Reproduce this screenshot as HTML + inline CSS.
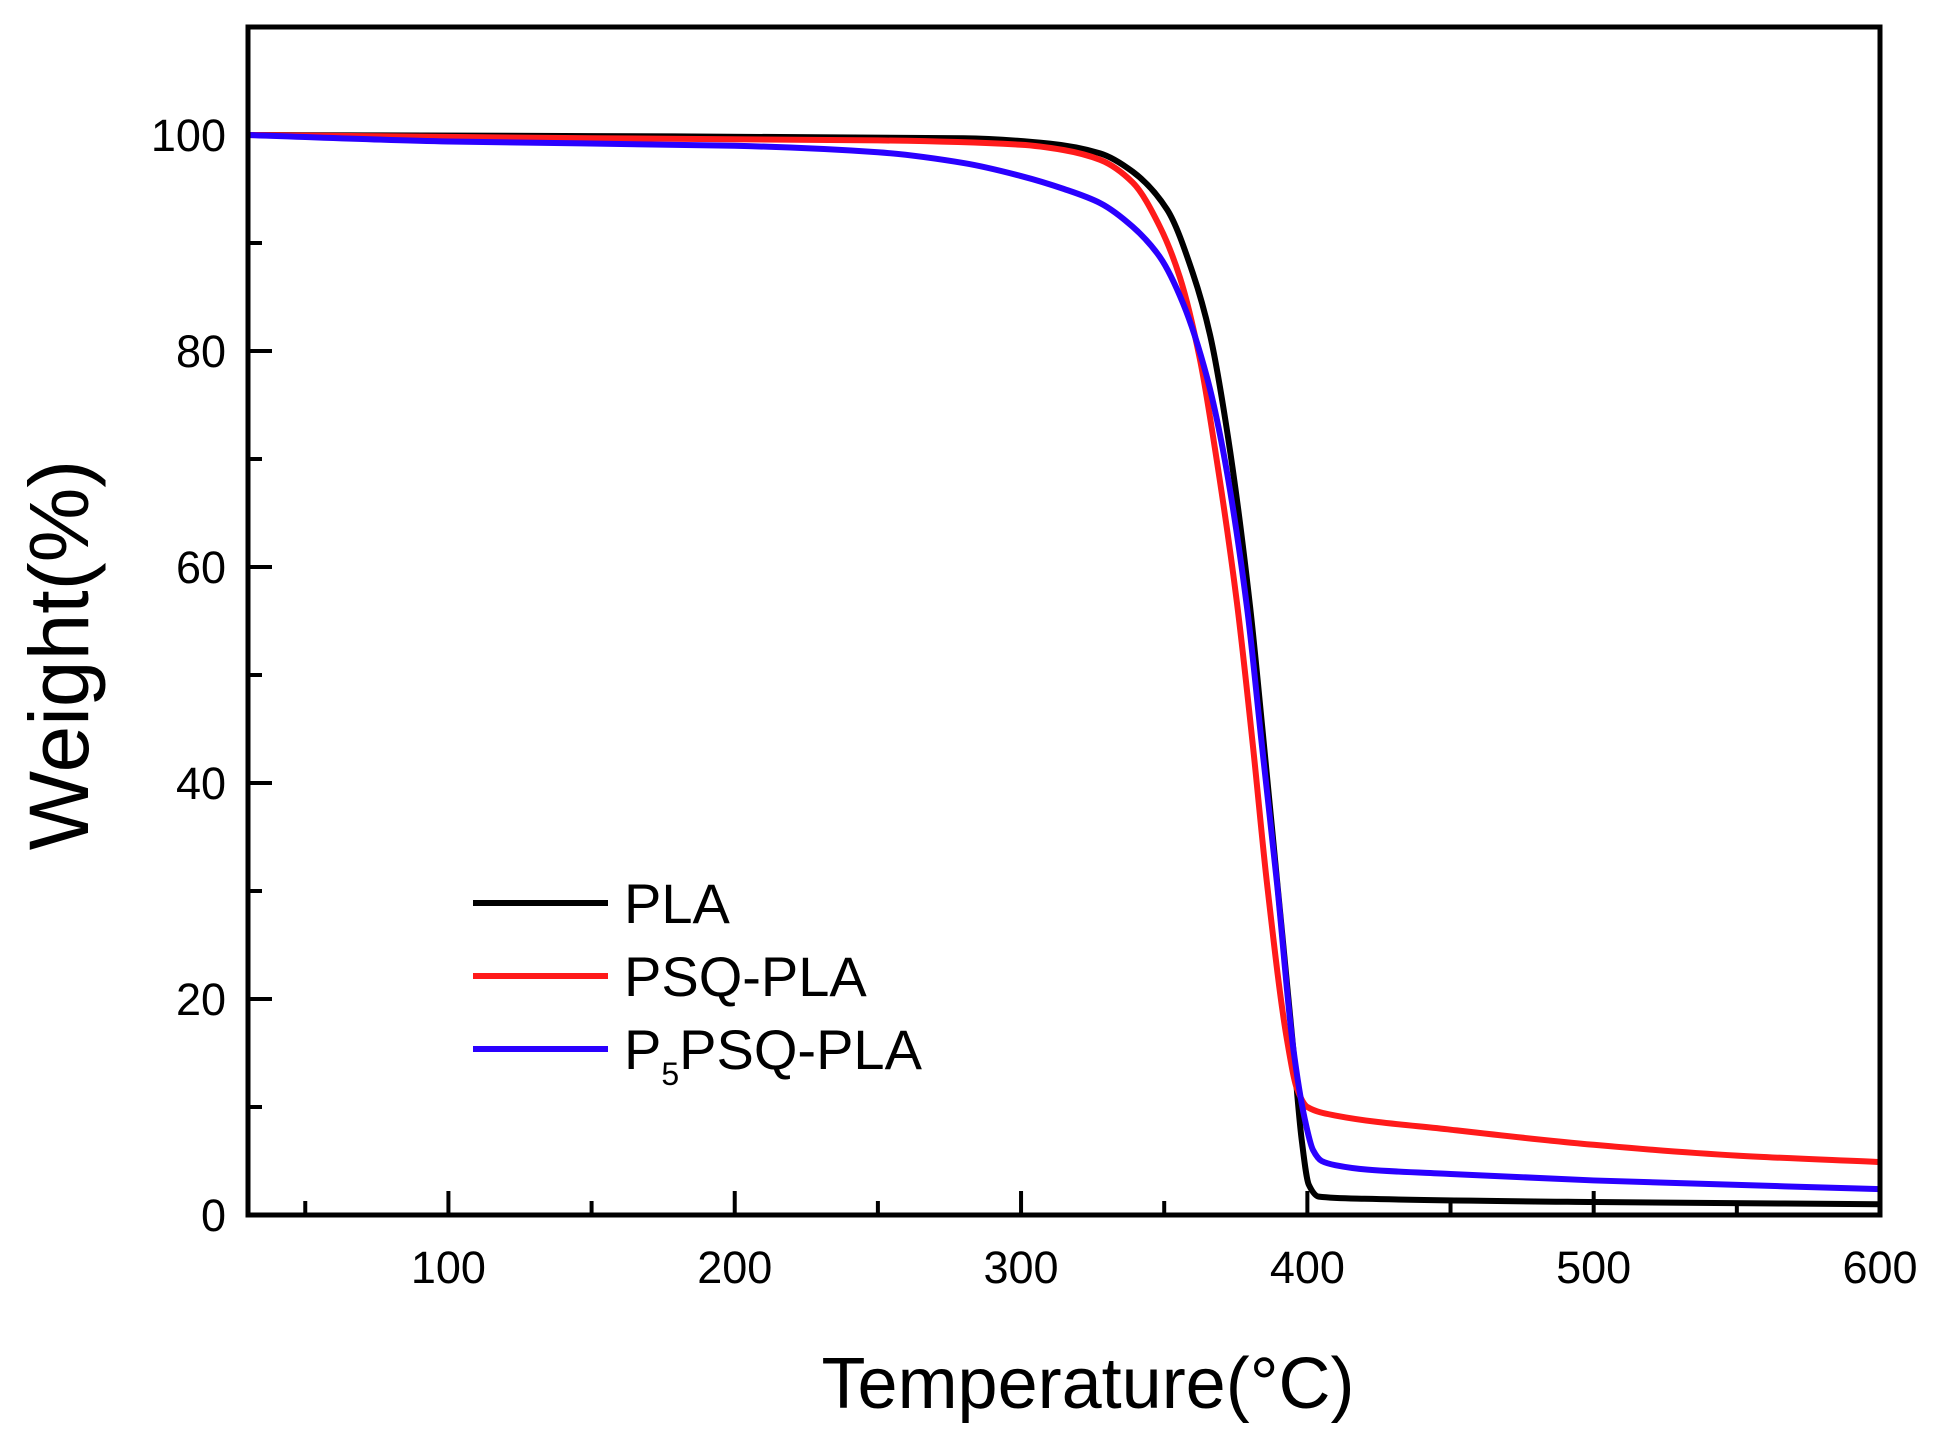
<!DOCTYPE html>
<html><head><meta charset="utf-8"><style>
html,body{margin:0;padding:0;background:#fff;}
svg{display:block;font-family:"Liberation Sans",Arial,sans-serif;}
</style></head><body>
<svg id="s" width="1938" height="1440" viewBox="0 0 1938 1440" xmlns="http://www.w3.org/2000/svg">
<rect width="1938" height="1440" fill="#fff"/>
<g id="ticks" stroke="#000" stroke-width="4"></g>
<g id="curves" fill="none" stroke-width="6" stroke-linejoin="round"></g>
<rect x="248" y="27" width="1632" height="1188" fill="none" stroke="#000" stroke-width="5"/>
<g font-size="45" fill="#000" id="labels"></g>
<text x="0" y="0" font-size="84" transform="translate(88,655) rotate(-90)" text-anchor="middle">Weight(%)</text>
<text x="1088" y="1408" font-size="72" text-anchor="middle">Temperature(°C)</text>
<g stroke-width="6">
<line x1="473" y1="903" x2="608" y2="903" stroke="#000"/>
<line x1="473" y1="976" x2="608" y2="976" stroke="#ff1a1a"/>
<line x1="473" y1="1049" x2="608" y2="1049" stroke="#2a00ff"/>
</g>
<g font-size="56" fill="#000">
<text x="624" y="923">PLA</text>
<text x="624" y="996">PSQ-PLA</text>
<text x="624" y="1069">P<tspan font-size="32" dy="16">5</tspan><tspan dy="-16">PSQ-PLA</tspan></text>
</g>
</svg>
<script>
const X=t=>248+(t-30)/570*1632, Y=v=>1215-v/110*1188;
const ns="http://www.w3.org/2000/svg";
const tk=document.getElementById('ticks'), lb=document.getElementById('labels');
function el(p,tag,a,txt){const e=document.createElementNS(ns,tag);for(const k in a)e.setAttribute(k,a[k]);if(txt)e.textContent=txt;p.appendChild(e);}
for(let t=50;t<=600;t+=50){const maj=t%100==0;el(tk,'line',{x1:X(t),x2:X(t),y1:1215,y2:1215-(maj?24:14)});if(maj)el(lb,'text',{x:X(t),y:1283,'text-anchor':'middle'},String(t));}
for(let v=0;v<=110;v+=10){const maj=v%20==0;el(tk,'line',{x1:248,x2:248+(maj?24:14),y1:Y(v),y2:Y(v)});if(maj)el(lb,'text',{x:226,y:Y(v)+16,'text-anchor':'end'},String(v));}
const data={
"#000":[[30,100],[150,99.9],[280,99.7],[310,99.2],[327.6,98.3],[339,96.6],[351,93.1],[360,87.2],[366,81.5],[372.3,72],[380,56.3],[384.3,45],[389.4,31],[395,15.6],[398,7],[400.5,2.8],[404,1.7],[420,1.5],[500,1.2],[600,1]],
"#ff1a1a":[[30,100],[150,99.7],[250,99.5],[300,99.1],[315,98.6],[327.6,97.7],[339,95.6],[348.5,91.5],[355.5,86.8],[362.5,79.2],[367.7,71],[375.4,56.7],[381,43.4],[385.9,30.7],[392.9,16.2],[396.5,11.6],[400,10],[410,9.2],[450,7.9],[500,6.5],[550,5.5],[600,4.9]],
"#2a00ff":[[30,100],[100,99.4],[200,99],[250,98.4],[280,97.4],[300,96.2],[315,95],[327.6,93.7],[339,91.5],[348.5,88.7],[356.6,84.4],[364.9,77.6],[370.4,71],[378.9,56.3],[384.2,43.3],[389.4,30.7],[395,15.6],[399,9],[402,6],[405,5],[410,4.6],[421,4.2],[450,3.8],[500,3.2],[600,2.4]]};
function mono(pts){const n=pts.length,x=pts.map(p=>p[0]),y=pts.map(p=>p[1]),d=[],m=[];
for(let i=0;i<n-1;i++)d.push((y[i+1]-y[i])/(x[i+1]-x[i]));
m[0]=d[0];m[n-1]=d[n-2];
for(let i=1;i<n-1;i++){if(d[i-1]*d[i]<=0)m[i]=0;else{const h0=x[i]-x[i-1],h1=x[i+1]-x[i];const w1=2*h1+h0,w2=h1+2*h0;m[i]=(w1+w2)/(w1/d[i-1]+w2/d[i]);}}
let s="M"+X(x[0])+","+Y(y[0]);
for(let i=0;i<n-1;i++){const h=x[i+1]-x[i];
s+=" C"+X(x[i]+h/3)+","+Y(y[i]+m[i]*h/3)+" "+X(x[i+1]-h/3)+","+Y(y[i+1]-m[i+1]*h/3)+" "+X(x[i+1])+","+Y(y[i+1]);}
return s;}
const cv=document.getElementById('curves');
for(const c in data)el(cv,'path',{d:mono(data[c]),stroke:c});
</script>
</body></html>
